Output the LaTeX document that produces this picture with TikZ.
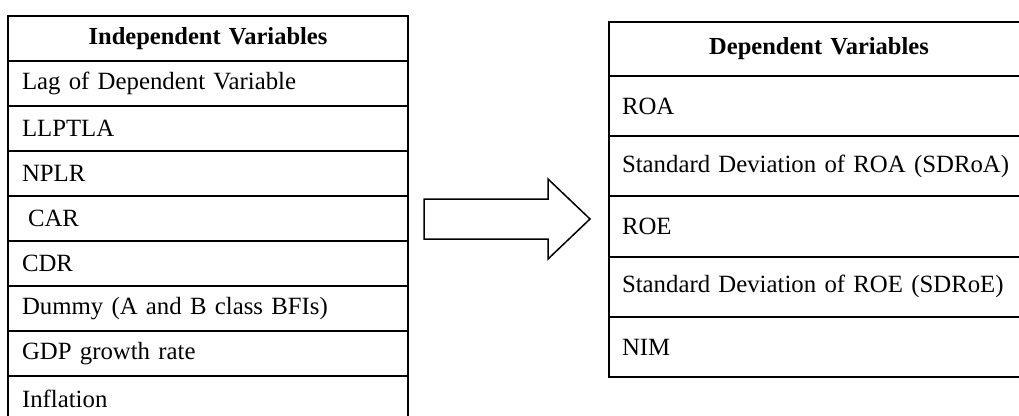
\documentclass[tikz,border=0pt]{standalone}
\usepackage{fontspec}
\setmainfont{Liberation Serif}
\usetikzlibrary{positioning}

\tikzset{
  cellbase/.style={draw, line width=2pt, anchor=north west, inner sep=0pt, outer sep=0pt},
  leftcell/.style={cellbase, minimum width=400pt, minimum height=45pt, text width=372pt, align=left},
  lefthead/.style={cellbase, minimum width=400pt, minimum height=45pt, text width=372pt, align=center, font=\fontsize{24.5}{28}\selectfont\bfseries},
  rightcell/.style={cellbase, minimum width=420pt, minimum height=60.2pt, text width=394pt, align=left},
  righthead/.style={cellbase, minimum width=420pt, minimum height=54pt, text width=394pt, align=center, font=\fontsize{24.5}{28}\selectfont\bfseries}
}

\begin{document}
\begin{tikzpicture}[x=1pt, y=-1pt, font=\fontsize{24.8}{29}\selectfont]
    \useasboundingbox (0,0) rectangle (1019,415);

    % Left table: independent variables
    \node[lefthead] (ivhead) at (8,16) {Independent Variables};
    \foreach \txt [count=\i] in {Lag of Dependent Variable, LLPTLA, NPLR, {\hspace*{6pt}CAR}, CDR,
        Dummy (A and B class BFIs), GDP growth rate, Inflation} {
      \node[leftcell] (iv\i) at (8,{16+45*\i}) {\txt};
    }

    % Block arrow between the tables
    \draw[line width=1.5pt, line join=miter]
      (424,199) -- (548,199) -- (548,179) -- (590,219) -- (548,259) -- (548,239) -- (424,239) -- cycle;

    % Right table: dependent variables
    \node[righthead] (dvhead) at (609,22) {Dependent Variables};
    \foreach \txt [count=\i] in {ROA, Standard Deviation of ROA (SDRoA), ROE,
        Standard Deviation of ROE (SDRoE), NIM} {
      \node[rightcell] (dv\i) at (609,{76+60.2*(\i-1)}) {\raisebox{-2pt}{\txt}};
    }
  \end{tikzpicture}
\end{document}
